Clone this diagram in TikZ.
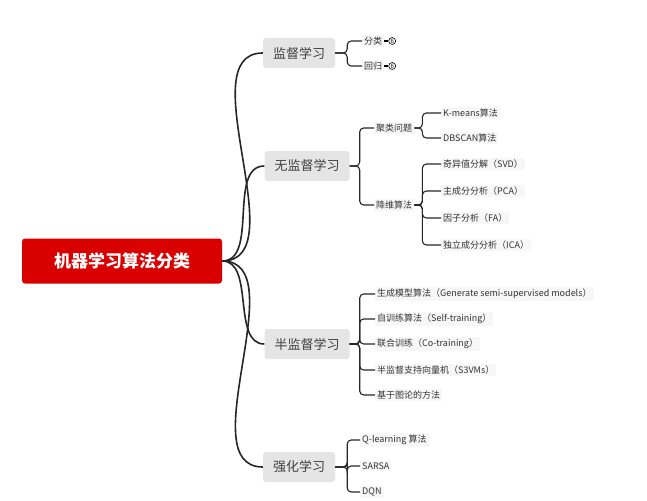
\documentclass[tikz,border=0pt]{standalone}
\usepackage{fontspec}
\setmainfont{Noto Sans CJK SC}
\usetikzlibrary{positioning}
\tikzset{
  rootbox/.style={fill=red!85!black,text=white,rounded corners=3pt,font=\fontsize{17}{19}\selectfont\bfseries,minimum width=200pt,minimum height=45pt,inner sep=0pt},
  topic/.style={fill=black!10,rounded corners=3pt,font=\fontsize{13}{15}\selectfont,text=black!75,minimum height=30pt,inner xsep=10pt},
  leaf/.style={fill=black!3,font=\fontsize{9}{11}\selectfont,text=black!80,anchor=west,inner sep=2pt},
  branch/.style={line width=1.6pt,black!85},
  twig/.style={line width=1.1pt,black!85,rounded corners=4pt}
}
\begin{document}
\begin{tikzpicture}[x=1pt,y=-1pt]
\useasboundingbox (0,0) rectangle (647,500);
% root
\node[rootbox] (root) at (122,261) {机器学习算法分类};
% main topics
\node[topic] (sup) at (299,53) {监督学习};
\node[topic] (uns) at (307,166) {无监督学习};
\node[topic] (semi) at (307,344) {半监督学习};
\node[topic] (rl) at (299,467) {强化学习};
\foreach \t in {sup,uns,semi,rl}
  \draw[branch] (root.east) to[out=0,in=180,looseness=0.9] (\t.west);
% supervised
\node[leaf] (cls) at (362,41) {分类};
\node[leaf] (reg) at (362,66) {回归};
\foreach \l in {cls,reg}{
  \draw[twig] (sup.east) -- ++(12,0) |- (\l.west);
  \node[draw,circle,inner sep=0.5pt,font=\fontsize{6}{6}\selectfont,line width=0.6pt,right=4pt of \l] (n\l) {6};
  \draw[line width=1.1pt] (\l.east) -- (n\l.west);
}
% unsupervised
\node[leaf] (clu) at (374,128) {聚类问题};
\node[leaf] (dim) at (374,205) {降维算法};
\foreach \l in {clu,dim}
  \draw[twig] (uns.east) -- ++(10,0) |- (\l.west);
\node[leaf] (km) at (441,113) {K-means算法};
\node[leaf] (db) at (441,138) {DBSCAN算法};
\foreach \l in {km,db}
  \draw[twig] (clu.east) -- ++(8,0) |- (\l.west);
\node[leaf] (svd) at (441,164) {奇异值分解（SVD）};
\node[leaf] (pca) at (441,191) {主成分分析（PCA）};
\node[leaf] (fa) at (441,218) {因子分析（FA）};
\node[leaf] (ica) at (441,245) {独立成分分析（ICA）};
\foreach \l in {svd,pca,fa,ica}
  \draw[twig] (dim.east) -- ++(8,0) |- (\l.west);
% semi-supervised
\node[leaf] (gen) at (375,294) {生成模型算法（Generate semi-supervised models）};
\node[leaf] (self) at (375,319) {自训练算法（Self-training）};
\node[leaf] (co) at (375,344) {联合训练（Co-training）};
\node[leaf] (s3v) at (375,370) {半监督支持向量机（S3VMs）};
\node[leaf] (graph) at (375,395) {基于图论的方法};
\foreach \l in {gen,self,co,s3v,graph}
  \draw[twig] (semi.east) -- ++(10,0) |- (\l.west);
% reinforcement
\node[leaf] (ql) at (360,440) {Q-learning 算法};
\node[leaf] (sarsa) at (360,466) {SARSA};
\node[leaf] (dqn) at (360,492) {DQN};
\foreach \l in {ql,sarsa,dqn}
  \draw[twig] (rl.east) -- ++(12,0) |- (\l.west);
\end{tikzpicture}
\end{document}
